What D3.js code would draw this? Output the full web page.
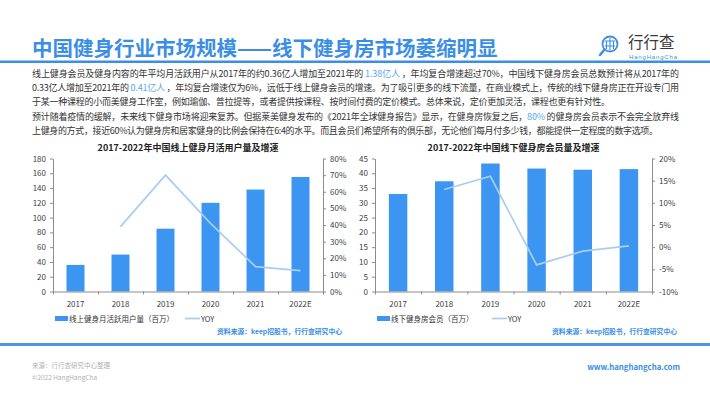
<!DOCTYPE html>
<html><head><meta charset="utf-8">
<script src="https://cdn.jsdelivr.net/npm/d3@7"></script>
<style>body{margin:0;background:#fff}svg{display:block}</style>
</head><body><svg id="c" width="710" height="399"></svg>
<script>
// ---- data ----
const years = ["2017", "2018", "2019", "2020", "2021", "2022E"];
const onlineUsers = [36, 50, 85, 120, 138, 155];          // 百万
const onlineYoy = [null, 39, 70, 41, 15, 12.5];            // %
const gymMembers = [33, 37.3, 43.3, 41.6, 41.2, 41.4];     // 百万
const gymYoy = [null, 13, 16, -4, -0.9, 0.3];              // %
const onlineTicks = [0, 20, 40, 60, 80, 100, 120, 140, 160, 180];
const onlinePctTicks = [0, 10, 20, 30, 40, 50, 60, 70, 80];
const gymTicks = [0, 5, 10, 15, 20, 25, 30, 35, 40, 45];
const gymPctTicks = [-10, -5, 0, 5, 10, 15, 20];

const titleText = "中国健身行业市场规模——线下健身房市场萎缩明显";
const para = [
  [["线上健身会员及健身内容的年平均月活跃用户从2017年的约0.36亿人增加至2021年的 ", 0], ["1.38亿人", 1], [" ，年均复合增速超过70%，中国线下健身房会员总数预计将从2017年的", 0]],
  [["0.33亿人增加至2021年的 ", 0], ["0.41亿人", 1], [" ，年均复合增速仅为6%，远低于线上健身会员的增速。为了吸引更多的线下流量，在商业模式上，传统的线下健身房正在开设专门用", 0]],
  [["于某一种课程的小而美健身工作室，例如瑜伽、普拉提等，或者提供按课程、按时间付费的定价模式。总体来说，定价更加灵活，课程也更有针对性。", 0]],
  [["预计随着疫情的缓解，未来线下健身市场将迎来复苏。但据莱美健身发布的《2021年全球健身报告》显示，在健身房恢复之后，", 0], ["80%", 1], [" 的健身房会员表示不会完全放弃线", 0]],
  [["上健身的方式，接近60%认为健身房和居家健身的比例会保持在6:4的水平。而且会员们希望所有的俱乐部，无论他们每月付多少钱，都能提供一定程度的数字选项。", 0]]
];
const paraWidth = [647, 647, 578, 647, 626];

const FONT = "'Noto Sans CJK SC','Noto Sans',sans-serif";
const BLUE = "#3a8ee6", BAR = "#3d95f2", LINE = "#a9cdf1", TXT = "#333";

const svg = d3.select("#c").style("font-family", FONT);
svg.append("rect").attr("width", 710).attr("height", 399).attr("fill", "#fff");

// ---- header ----
svg.append("text").attr("x", 32).attr("y", 56).attr("font-size", 20.5).attr("font-weight", 700)
  .attr("fill", BLUE).text(titleText);
svg.append("rect").attr("x", 0).attr("y", 60.5).attr("width", 710).attr("height", 2.5).attr("fill", BLUE);

// logo
const logo = svg.append("g");
logo.append("circle").attr("cx", 610).attr("cy", 44).attr("r", 7.5).attr("fill", "none").attr("stroke", BLUE).attr("stroke-width", 1.8);
logo.append("path").attr("d", "M605,41H615M605,46H615M610,38V50M606.5,41V49M613.5,41V49").attr("stroke", BLUE).attr("stroke-width", 1.1).attr("fill", "none");
logo.append("line").attr("x1", 604.5).attr("y1", 49.5).attr("x2", 600).attr("y2", 55).attr("stroke", BLUE).attr("stroke-width", 2.4).attr("stroke-linecap", "round");
logo.append("text").attr("x", 628).attr("y", 48).attr("font-size", 15.5).attr("fill", "#3a3a3a").text("行行查");
logo.append("text").attr("x", 629).attr("y", 58.5).attr("font-size", 6).attr("font-family", "'Liberation Sans',Arial,sans-serif")
  .attr("fill", BLUE).attr("textLength", 48).text("HangHangCha");

// ---- paragraphs ----
const lineY = [77, 91, 105, 120, 134];
para.forEach((segs, i) => {
  const t = svg.append("text").attr("x", 32).attr("y", lineY[i]).attr("font-size", 9).attr("fill", TXT)
    .attr("xml:space", "preserve").attr("textLength", paraWidth[i]).attr("lengthAdjust", "spacing");
  segs.forEach(([s, hl]) => t.append("tspan").attr("fill", hl ? "#5aa8f0" : TXT).text(s));
});

// ---- charts ----
function chart(cfg) {
  const g = svg.append("g");
  const x = d3.scaleBand().domain(years).range([cfg.x0, cfg.x1]).paddingInner(0.6).paddingOuter(0.3);
  const xb = d3.scaleLinear().domain([0, years.length]).range([cfg.x0, cfg.x1]);
  const y = d3.scaleLinear().domain(cfg.yDom).range([cfg.y1, cfg.y0]);
  const y2 = d3.scaleLinear().domain(cfg.pDom).range([cfg.y1, cfg.y0]);

  g.append("text").attr("x", (cfg.x0 + cfg.x1) / 2).attr("y", 151).attr("text-anchor", "middle")
    .attr("font-size", 9).attr("font-weight", 700).attr("fill", "#222").text(cfg.title);

  g.selectAll("rect.bar").data(cfg.vals).join("rect").attr("class", "bar")
    .attr("x", (d, i) => x(years[i])).attr("width", x.bandwidth())
    .attr("y", d => y(d)).attr("height", d => y(0) - y(d)).attr("fill", BAR);

  const line = d3.line().defined(d => d[1] != null).x(d => x(d[0]) + x.bandwidth() / 2).y(d => y2(d[1]));
  g.append("path").datum(years.map((yr, i) => [yr, cfg.yoy[i]])).attr("d", line)
    .attr("fill", "none").attr("stroke", LINE).attr("stroke-width", 1.7);

  const style = sel => {
    sel.selectAll("path,line").attr("stroke", "#8c8c8c");
    sel.selectAll("text").attr("font-size", 8).attr("fill", "#404040").attr("font-family", FONT);
  };
  g.append("g").attr("transform", `translate(${cfg.x0},0)`)
    .call(d3.axisLeft(y).tickValues(cfg.yTicks).tickSize(3).tickPadding(4).tickSizeOuter(0)).call(style);
  g.append("g").attr("transform", `translate(${cfg.x1},0)`)
    .call(d3.axisRight(y2).tickValues(cfg.pTicks).tickFormat(d => d + "%").tickSize(3).tickPadding(4).tickSizeOuter(0)).call(style);
  g.append("g").attr("transform", `translate(0,${cfg.y1})`)
    .call(d3.axisBottom(xb).tickValues(d3.range(years.length + 1)).tickFormat("").tickSize(3).tickSizeOuter(0)).call(style);
  g.append("g").attr("transform", `translate(0,${cfg.y1})`)
    .call(d3.axisBottom(x).tickSize(0).tickPadding(10)).call(style).call(s => s.select(".domain").remove());

  // legend
  const ly = 318.5;
  g.append("rect").attr("x", cfg.lx).attr("y", ly - 2.5).attr("width", 13).attr("height", 5).attr("fill", BAR);
  g.append("text").attr("x", cfg.lx + 14).attr("y", ly + 3).attr("font-size", 7.5).attr("fill", TXT).text(cfg.legend);
  g.append("line").attr("x1", cfg.lx2).attr("x2", cfg.lx2 + 15).attr("y1", ly).attr("y2", ly).attr("stroke", LINE).attr("stroke-width", 1.7);
  g.append("text").attr("x", cfg.lx2 + 16).attr("y", ly + 3).attr("font-size", 7.5).attr("fill", TXT).text("YOY");
  g.append("text").attr("x", cfg.srcX).attr("y", 334).attr("text-anchor", "end").attr("font-size", 6.8)
    .attr("font-weight", 700).attr("fill", BLUE).text("资料来源：keep招股书，行行查研究中心");
}

chart({x0: 53, x1: 323, y0: 158.5, y1: 291.5, yDom: [0, 180], pDom: [0, 80],
  yTicks: onlineTicks, pTicks: onlinePctTicks, vals: onlineUsers, yoy: onlineYoy,
  title: "2017-2022年中国线上健身月活用户量及增速", legend: "线上健身月活跃用户量（百万）",
  lx: 55, lx2: 185, srcX: 342});
chart({x0: 375, x1: 652, y0: 158.5, y1: 291.5, yDom: [0, 45], pDom: [-10, 20],
  yTicks: gymTicks, pTicks: gymPctTicks, vals: gymMembers, yoy: gymYoy,
  title: "2017-2022年中国线下健身房会员量及增速", legend: "线下健身房会员（百万）",
  lx: 377, lx2: 492, srcX: 677});

// ---- footer ----
svg.append("rect").attr("x", 0).attr("y", 343).attr("width", 710).attr("height", 3).attr("fill", "#4a96ea");
svg.append("text").attr("x", 32).attr("y", 368).attr("font-size", 6.5).attr("fill", "#b0b0b0").text("来源：行行查研究中心整理");
svg.append("text").attr("x", 32).attr("y", 380).attr("font-size", 6.5).attr("fill", "#b0b0b0").text("©2022 HangHangCha");
svg.append("text").attr("x", 680).attr("y", 370).attr("text-anchor", "end").attr("font-size", 7.8).attr("font-weight", 700)
  .attr("fill", BLUE).text("www.hanghangcha.com");
</script></body></html>
